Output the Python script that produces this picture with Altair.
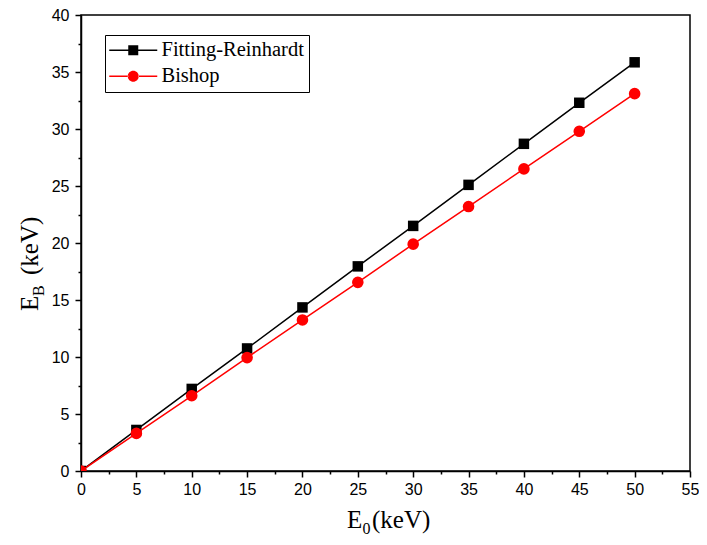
import altair as alt
import pandas as pd

# ---- data ----
e0_values = [0, 5, 10, 15, 20, 25, 30, 35, 40, 45, 50]
fitting_reinhardt = [0, 3.6, 7.2, 10.75, 14.35, 17.95, 21.5, 25.1, 28.7, 32.3, 35.85]
bishop = [0, 3.3, 6.6, 9.95, 13.25, 16.55, 19.9, 23.2, 26.5, 29.8, 33.1]
series_names = ["Fitting-Reinhardt", "Bishop"]
series_colors = ["black", "red"]
x_major_ticks = [0, 5, 10, 15, 20, 25, 30, 35, 40, 45, 50, 55]
x_minor_ticks = [2.5, 7.5, 12.5, 17.5, 22.5, 27.5, 32.5, 37.5, 42.5, 47.5, 52.5]
y_major_ticks = [0, 5, 10, 15, 20, 25, 30, 35, 40]
y_minor_ticks = [2.5, 7.5, 12.5, 17.5, 22.5, 27.5, 32.5, 37.5]

df = pd.DataFrame({
    "E0": e0_values * 2,
    "EB": fitting_reinhardt + bishop,
    "series": [series_names[0]] * len(e0_values) + [series_names[1]] * len(e0_values),
})

xscale = alt.Scale(domain=[0, 55], nice=False, zero=False)
yscale = alt.Scale(domain=[0, 40], nice=False, zero=False)

common_axis = dict(grid=False, domainColor="black", domainWidth=1.5, tickColor="black",
                   tickWidth=1.5, title=None)

x_major = alt.Axis(values=x_major_ticks, tickSize=6, labelFont="Liberation Sans",
                   labelFontSize=16, labelColor="black", labelPadding=4, orient="bottom",
                   labelFlush=False, labelOverlap=False, **common_axis)
y_major = alt.Axis(values=y_major_ticks, tickSize=6, labelFont="Liberation Sans",
                   labelFontSize=16, labelColor="black", labelPadding=6, orient="left",
                   labelFlush=False, labelOverlap=False, **common_axis)
x_minor = alt.Axis(values=x_minor_ticks, tickSize=3, labels=False, domain=False,
                   orient="bottom", **common_axis)
y_minor = alt.Axis(values=y_minor_ticks, tickSize=3, labels=False, domain=False,
                   orient="left", **common_axis)

base = alt.Chart(df)
fr = base.transform_filter(alt.datum.series == series_names[0])
bi = base.transform_filter(alt.datum.series == series_names[1])

fr_line = fr.mark_line(color="black", strokeWidth=1.5, clip=True).encode(
    x=alt.X("E0:Q", scale=xscale, axis=x_major),
    y=alt.Y("EB:Q", scale=yscale, axis=y_major),
)
fr_pts = fr.mark_square(color="black", size=110, opacity=1, clip=True).encode(
    x=alt.X("E0:Q", scale=xscale, axis=None),
    y=alt.Y("EB:Q", scale=yscale, axis=None),
)
bi_line = bi.mark_line(color="red", strokeWidth=1.5, clip=True).encode(
    x=alt.X("E0:Q", scale=xscale, axis=None),
    y=alt.Y("EB:Q", scale=yscale, axis=None),
)
bi_pts = bi.mark_circle(color="red", size=135, opacity=1, clip=True).encode(
    x=alt.X("E0:Q", scale=xscale, axis=None),
    y=alt.Y("EB:Q", scale=yscale, axis=None),
)
minor = base.transform_filter("false").mark_point().encode(
    x=alt.X("E0:Q", scale=xscale, axis=x_minor),
    y=alt.Y("EB:Q", scale=yscale, axis=y_minor),
)

# legend symbols: line segment + marker
sq_path = ("M-4.8,-0.15H-1V0.15H-4.8Z M1,-0.15H4.8V0.15H1Z "
           "M-1,-1H1V1H-1Z")
ci_path = ("M-4.8,-0.15H-1V0.15H-4.8Z M1,-0.15H4.8V0.15H1Z "
           "M-1.1,0A1.1,1.1,0,1,0,1.1,0A1.1,1.1,0,1,0,-1.1,0Z")

legend = alt.Legend(orient="none", legendX=24, legendY=20, title=None,
                    labelFont="Liberation Serif", labelFontSize=20.5, labelColor="black",
                    strokeColor="black", padding=5, symbolSize=100, symbolOffset=13,
                    labelOffset=18, rowPadding=5, symbolStrokeWidth=0)

legend_layer = base.transform_filter("false").mark_point(filled=True, opacity=1).encode(
    x=alt.X("E0:Q", scale=xscale, axis=None),
    y=alt.Y("EB:Q", scale=yscale, axis=None),
    color=alt.Color("series:N", scale=alt.Scale(domain=series_names, range=series_colors),
                    legend=legend),
    shape=alt.Shape("series:N", scale=alt.Scale(domain=series_names, range=[sq_path, ci_path]),
                    legend=legend),
)

one = alt.Data(values=[{}])
def txt(s, size, x, y, angle=0):
    return alt.Chart(one).mark_text(text=s, font="Liberation Serif", fontSize=size,
                                    align="left", baseline="alphabetic", angle=angle,
                                    color="black").encode(x=alt.value(x), y=alt.value(y))

titles = [
    txt("E", 25, 266, 513),
    txt("0", 16, 281.5, 519),
    txt("(keV)", 25, 291, 513),
    txt("E", 25, -43, 296, 270),
    txt("B", 16, -37, 281, 270),
    txt("(keV)", 25, -43, 260, 270),
]

chart = alt.layer(fr_line, fr_pts, bi_line, bi_pts, minor, legend_layer, *titles).resolve_axis(
    x="independent", y="independent"
).properties(
    width=609, height=456,
    autosize=alt.AutoSizeParams(type="none"),
    padding={"left": 73, "top": 7, "right": 9, "bottom": 66},
).configure_view(stroke="black", strokeWidth=1.5)

chart.save("out.html", embed_options={"renderer": "svg", "actions": False})
